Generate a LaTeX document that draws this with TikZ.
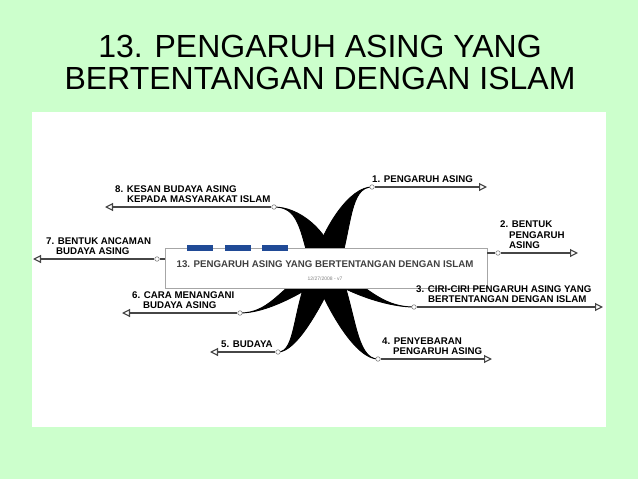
\documentclass[tikz,border=0pt]{standalone}
\usepackage{fontspec}
\setmainfont{Liberation Sans}
\usepackage{tikz}
\usetikzlibrary{arrows.meta,calc,positioning}
\definecolor{slidegreen}{RGB}{204,255,204}
\definecolor{barblue}{RGB}{32,74,150}
\definecolor{wiregray}{RGB}{70,70,70}
\newcommand{\limb}[4]{\fill[black,draw=black,line width=0.9pt] (#1) .. controls #2 and ($#3+(#4,0)$) .. ($(hub)+(#4,0)$) -- ($(hub)-(#4,0)$) .. controls ($#3-(#4,0)$) and #2 .. (#1) -- cycle;}

\begin{document}
\begin{tikzpicture}[x=1pt,y=-1pt]
\tikzstyle{every node}=[inner sep=0pt]
\tikzstyle{knot}=[circle,draw=gray,fill=white,minimum size=4.5pt,line width=0.6pt]
\tikzstyle{twig}=[draw=wiregray,line width=1.1pt,-{Triangle[open,length=8pt,width=8pt]}]
\tikzstyle{leaf}=[anchor=south west,align=left,font=\fontsize{9.7}{10.5}\selectfont\bfseries,text=black]
\useasboundingbox (0,0) rectangle (638,479);
\fill[slidegreen] (0,0) rectangle (638,479);
\fill[white] (32,112) rectangle (606,427);
\node[font=\fontsize{32}{32}\selectfont,anchor=base] (title1) at (320,57) {13. PENGARUH ASING YANG};
\node[font=\fontsize{32}{32}\selectfont,anchor=base] (title2) at (320,89) {BERTENTANGAN DENGAN ISLAM};
\coordinate (hub) at (325,268);
\coordinate (p1) at (372,187);
\coordinate (p2) at (498,253);
\coordinate (p3) at (414,307);
\coordinate (p4) at (378,359);
\coordinate (p5) at (278,352);
\coordinate (p6) at (240,313);
\coordinate (p7) at (157,259);
\coordinate (p8) at (274,207);
\coordinate (t1) at (487,187);
\coordinate (t2) at (578,253);
\coordinate (t3) at (603,307);
\coordinate (t4) at (492,359);
\coordinate (t5) at (210,352);
\coordinate (t6) at (122,313);
\coordinate (t7) at (33,259);
\coordinate (t8) at (105,207);
\limb{p1}{(350,187)}{(338,225)}{14}
\limb{p8}{(298,207)}{(314,228)}{14}
\limb{p6}{(268,313)}{(292,292)}{14}
\limb{p5}{(296,352)}{(306,310)}{14}
\limb{p4}{(356,359)}{(342,312)}{14}
\limb{p3}{(386,307)}{(356,292)}{14}
\node[draw=gray!70,fill=white,line width=0.8pt,minimum width=322pt,minimum height=40pt] (main) at (326,268) {};
\foreach \bx in {187,225,262} \fill[barblue] (\bx,245) rectangle ++(26,6);
\node[anchor=base,font=\fontsize{9.7}{10.5}\selectfont\bfseries,text=black!75] (head) at (325,267) {13. PENGARUH ASING YANG BERTENTANGAN DENGAN ISLAM};
\node[below=9pt of head,font=\fontsize{5}{6}\selectfont,text=gray] (stamp) {12/27/2008 - v7};
\foreach \i in {1,...,8} \node[knot] (k\i) at (p\i) {};
\draw[twig] (k1) -- (t1);
\draw[wiregray,line width=1.1pt] (main.east |- k2) -- (k2);
\draw[twig] (k2) -- (t2);
\draw[twig] (k3) -- (t3);
\draw[twig] (k4) -- (t4);
\draw[twig] (k5) -- (t5);
\draw[twig] (k6) -- (t6);
\draw[wiregray,line width=1.1pt] (main.west |- k7) -- (k7);
\draw[twig] (k7) -- (t7);
\draw[twig] (k8) -- (t8);
\node[leaf] (l1) at (372,183) {1. PENGARUH ASING};
\node[leaf] (l2) at (500,249) {2. BENTUK\\\hspace*{9pt}PENGARUH\\\hspace*{9pt}ASING};
\node[leaf] (l3) at (416,303) {3. CIRI-CIRI PENGARUH ASING YANG\\\hspace*{12pt}BERTENTANGAN DENGAN ISLAM};
\node[leaf] (l4) at (382,355) {4. PENYEBARAN\\\hspace*{11pt}PENGARUH ASING};
\node[leaf] (l5) at (221,348) {5. BUDAYA};
\node[leaf] (l6) at (132,309) {6. CARA MENANGANI\\\hspace*{11pt}BUDAYA ASING};
\node[leaf] (l7) at (46,255) {7. BENTUK ANCAMAN\\\hspace*{10pt}BUDAYA ASING};
\node[leaf] (l8) at (115,203) {8. KESAN BUDAYA ASING\\\hspace*{12pt}KEPADA MASYARAKAT ISLAM};
\end{tikzpicture}
\end{document}
